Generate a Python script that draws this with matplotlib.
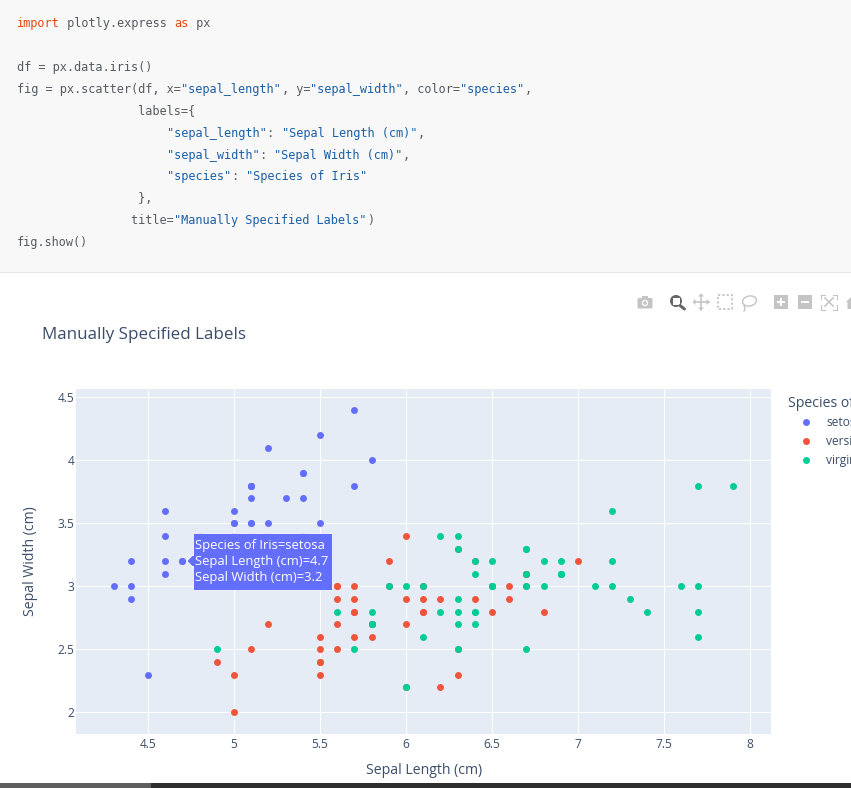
import matplotlib
matplotlib.use("Agg")
import matplotlib.pyplot as plt
from matplotlib.patches import Rectangle, Polygon, Circle, Ellipse, FancyBboxPatch

# Iris measurements per species
setosa_length = [5.1,4.9,4.7,4.6,5.0,5.4,4.6,5.0,4.4,4.9,5.4,4.8,4.8,4.3,5.8,5.7,5.4,5.1,5.7,5.1,5.4,5.1,4.6,5.1,4.8,
                 5.0,5.0,5.2,5.2,4.7,4.8,5.4,5.2,5.5,4.9,5.0,5.5,4.9,4.4,5.1,5.0,4.5,4.4,5.0,5.1,4.8,5.1,4.6,5.3,5.0]
setosa_width = [3.5,3.0,3.2,3.1,3.6,3.9,3.4,3.4,2.9,3.1,3.7,3.4,3.0,3.0,4.0,4.4,3.9,3.5,3.8,3.8,3.4,3.7,3.6,3.3,3.4,
                3.0,3.4,3.5,3.4,3.2,3.1,3.4,4.1,4.2,3.1,3.2,3.5,3.1,3.0,3.4,3.5,2.3,3.2,3.5,3.8,3.0,3.8,3.2,3.7,3.3]
versicolor_length = [7.0,6.4,6.9,5.5,6.5,5.7,6.3,4.9,6.6,5.2,5.0,5.9,6.0,6.1,5.6,6.7,5.6,5.8,6.2,5.6,5.9,6.1,6.3,6.1,6.4,
                     6.6,6.8,6.7,6.0,5.7,5.5,5.5,5.8,6.0,5.4,6.0,6.7,6.3,5.6,5.5,5.5,6.1,5.8,5.0,5.6,5.7,5.7,6.2,5.1,5.7]
versicolor_width = [3.2,3.2,3.1,2.3,2.8,2.8,3.3,2.4,2.9,2.7,2.0,3.0,2.2,2.9,2.9,3.1,3.0,2.7,2.2,2.5,3.2,2.8,2.5,2.8,2.9,
                    3.0,2.8,3.0,2.9,2.6,2.4,2.4,2.7,2.7,3.0,3.4,3.1,2.3,3.0,2.5,2.6,3.0,2.6,2.3,2.7,3.0,2.9,2.9,2.5,2.8]
virginica_length = [6.3,5.8,7.1,6.3,6.5,7.6,4.9,7.3,6.7,7.2,6.5,6.4,6.8,5.7,5.8,6.4,6.5,7.7,7.7,6.0,6.9,5.6,7.7,6.3,6.7,
                    7.2,6.2,6.1,6.4,7.2,7.4,7.9,6.4,6.3,6.1,7.7,6.3,6.4,6.0,6.9,6.7,6.9,5.8,6.8,6.7,6.7,6.3,6.5,6.2,5.9]
virginica_width = [3.3,2.7,3.0,2.9,3.0,3.0,2.5,2.9,2.5,3.6,3.2,2.7,3.0,2.5,2.8,3.2,3.0,3.8,2.6,2.2,3.2,2.8,2.8,2.7,3.3,
                   3.2,2.8,3.0,2.8,3.0,2.8,3.8,2.8,2.8,2.6,3.0,3.4,3.1,3.0,3.1,3.1,3.1,2.7,3.2,3.3,3.0,2.5,3.0,3.4,3.0]
species_names = ["setosa", "versicolor", "virginica"]
x_ticks = [4.5, 5, 5.5, 6, 6.5, 7, 7.5, 8]
x_tick_labels = ["4.5", "5", "5.5", "6", "6.5", "7", "7.5", "8"]
y_ticks = [2, 2.5, 3, 3.5, 4, 4.5]
y_tick_labels = ["2", "2.5", "3", "3.5", "4", "4.5"]

W, H = 851, 788
PX = 0.72  # points per pixel at 100 dpi
BLUE, RED, GREEN = "#636efa", "#ef553b", "#00cc96"
INK = "#3a4d6b"
plt.rcParams["font.family"] = ["Open Sans", "DejaVu Sans"]

fig = plt.figure(figsize=(W / 100, H / 100), dpi=100, facecolor="white")

# Scatter panel
ax = fig.add_axes([76 / W, 1 - 734 / H, 695 / W, 345 / H], facecolor="#e5ecf6")
ax.set_xlim(4.081, 8.1215)
ax.set_ylim(1.828, 4.566)
ax.set_axisbelow(True)
ax.grid(True, color="white", linewidth=1.0 * PX)
for side in ax.spines.values():
    side.set_visible(False)
ax.set_xticks(x_ticks, x_tick_labels)
ax.set_yticks(y_ticks, y_tick_labels)
ax.tick_params(length=0, labelsize=12 * PX, labelcolor=INK)
ax.tick_params(axis="x", pad=3)
ax.tick_params(axis="y", pad=1)

series = [(setosa_length, setosa_width, BLUE),
          (versicolor_length, versicolor_width, RED),
          (virginica_length, virginica_width, GREEN)]
for xs, ys, col in series:
    ax.scatter(xs, ys, s=25, c=col, linewidths=0, zorder=3)

# Overlay in pixel coordinates for page furniture
ov = fig.add_axes([0, 0, 1, 1], facecolor="none")
ov.set_xlim(0, W)
ov.set_ylim(H, 0)
ov.axis("off")

# Code block
ov.add_patch(Rectangle((0, 0), W, 272, fc="#f8f8f8", ec="none"))
ov.add_patch(Rectangle((0, 272), W, 1, fc="#e6e6e6", ec="none"))
KW, STR, TXT = "#e8470f", "#1a5fa8", "#565b61"
code_lines = [
    (23, [("import", KW), (" plotly.express ", TXT), ("as", KW), (" px", TXT)]),
    (67, [("df = px.data.iris()", TXT)]),
    (89, [("fig = px.scatter(df, x=", TXT), ('"sepal_length"', STR), (", y=", TXT), ('"sepal_width"', STR),
          (", color=", TXT), ('"species"', STR), (",", TXT)]),
    (111, [(" " * 17 + "labels={", TXT)]),
    (133, [(" " * 21, TXT), ('"sepal_length"', STR), (": ", TXT), ('"Sepal Length (cm)"', STR), (",", TXT)]),
    (155, [(" " * 21, TXT), ('"sepal_width"', STR), (": ", TXT), ('"Sepal Width (cm)"', STR), (",", TXT)]),
    (176, [(" " * 21, TXT), ('"species"', STR), (": ", TXT), ('"Species of Iris"', STR)]),
    (198, [(" " * 17 + "},", TXT)]),
    (220, [(" " * 16 + "title=", TXT), ('"Manually Specified Labels"', STR), (")", TXT)]),
    (242, [("fig.show()", TXT)]),
]
ADV = 7.15
for y, parts in code_lines:
    col = 0
    for s, c in parts:
        if s.strip():
            ov.text(17 + col * ADV, y, s, color=c, family="DejaVu Sans Mono", fontsize=11.88 * PX,
                    va="center", ha="left")
        col += len(s)

# Mode bar icons
GREY, DARK = "#c4c4c4", "#666666"
# camera
ov.add_patch(FancyBboxPatch((637.5, 298), 15, 10.5, boxstyle="round,pad=0,rounding_size=1.5", fc=GREY, ec="none"))
ov.add_patch(Rectangle((642, 295.5), 6, 3, fc=GREY, ec="none"))
ov.add_patch(Circle((645, 303), 3.2, fc="white", ec="none"))
ov.add_patch(Circle((645, 303), 1.9, fc=GREY, ec="none"))
# zoom
ov.add_patch(Circle((676, 301), 6, fc=DARK, ec="none"))
ov.add_patch(Rectangle((672.5, 297.5), 7, 7, fc="white", ec="none"))
ov.plot([680, 684.5], [305.5, 309], color=DARK, lw=3 * PX, solid_capstyle="round")
# pan
ov.plot([693.5, 708.5], [302, 302], color=GREY, lw=1.6 * PX)
ov.plot([701, 701], [294.5, 309.5], color=GREY, lw=1.6 * PX)
for pts in ([(698, 296.5), (704, 296.5), (701, 293.5)], [(698, 307.5), (704, 307.5), (701, 310.5)],
            [(695.5, 299), (695.5, 305), (692.5, 302)], [(706.5, 299), (706.5, 305), (709.5, 302)]):
    ov.add_patch(Polygon(pts, fc=GREY, ec="none"))
# box select
ov.add_patch(Rectangle((718, 295), 14, 14, fc="none", ec=GREY, lw=1.8 * PX, ls=(0, (1.2, 1.2))))
# lasso
ov.add_patch(Ellipse((749.5, 301), 14, 10, angle=-12, fc="none", ec=GREY, lw=1.4 * PX))
ov.plot([744, 745, 744], [305, 309, 311], color=GREY, lw=1.4 * PX)
# zoom in / out
ov.add_patch(Rectangle((774, 295), 14, 14, fc=GREY, ec="none"))
ov.plot([777, 785], [302, 302], color="white", lw=2 * PX, solid_capstyle="butt")
ov.plot([781, 781], [298, 306], color="white", lw=2 * PX, solid_capstyle="butt")
ov.add_patch(Rectangle((798, 295), 14, 14, fc=GREY, ec="none"))
ov.plot([801, 809], [302, 302], color="white", lw=2 * PX, solid_capstyle="butt")
# autoscale
for x0, x1, y0, y1 in ((821, 825, 294.5, 294.5), (833, 837, 294.5, 294.5), (821, 825, 309.5, 309.5), (833, 837, 309.5, 309.5),
                       (821, 821, 294.5, 299), (837, 837, 294.5, 299), (821, 821, 305, 309.5), (837, 837, 305, 309.5)):
    ov.plot([x0, x1], [y0, y1], color=GREY, lw=1.1 * PX)
ov.plot([825, 833], [298, 306], color=GREY, lw=1.6 * PX)
ov.plot([825, 833], [306, 298], color=GREY, lw=1.6 * PX)
# home, running off the page edge
ov.add_patch(Polygon([(846, 302), (853, 295), (853, 309), (847.5, 309), (847.5, 302)], fc=GREY, ec="none"))

# Titles
ov.text(42, 335, "Manually Specified Labels", color=INK, fontsize=17 * PX, va="center", ha="left")
ov.text(424, 771, "Sepal Length (cm)", color=INK, fontsize=14 * PX, va="center", ha="center")
ov.text(31, 561.5, "Sepal Width (cm)", color=INK, fontsize=14 * PX, va="center", ha="center", rotation=90)

# Legend, cut by the page edge
ov.text(788, 403, "Species of Iris", color=INK, fontsize=14 * PX, va="center", ha="left")
for y, name, col in zip((422, 441, 460), species_names, (BLUE, RED, GREEN)):
    ov.scatter([806], [y], s=25, c=col, linewidths=0)
    ov.text(826, y, name, color=INK, fontsize=12 * PX, va="center", ha="left")

# Hover label
ov.add_patch(Polygon([(192.7, 555), (187, 561), (192.7, 567)], fc=BLUE, ec="white", lw=0.7 * PX, zorder=5))
ov.add_patch(Rectangle((192.7, 532.7), 139, 57.3, fc=BLUE, ec="white", lw=0.8 * PX, zorder=5))
ov.add_patch(Rectangle((191.8, 555.7), 1.8, 10.6, fc=BLUE, ec="none", zorder=5))
for y, s in zip((545.5, 562, 578), ("Species of Iris=setosa", "Sepal Length (cm)=4.7", "Sepal Width (cm)=3.2")):
    ov.text(195, y, s, color="white", fontsize=13 * PX, va="center", ha="left", zorder=6)

# Window scrollbar along the bottom
ov.add_patch(Rectangle((0, 783), W, 5, fc="#2e2e2e", ec="none"))
ov.add_patch(Rectangle((0, 783), 151, 5, fc="#5e5e5e", ec="none"))

fig.savefig("out.png", dpi=100)
